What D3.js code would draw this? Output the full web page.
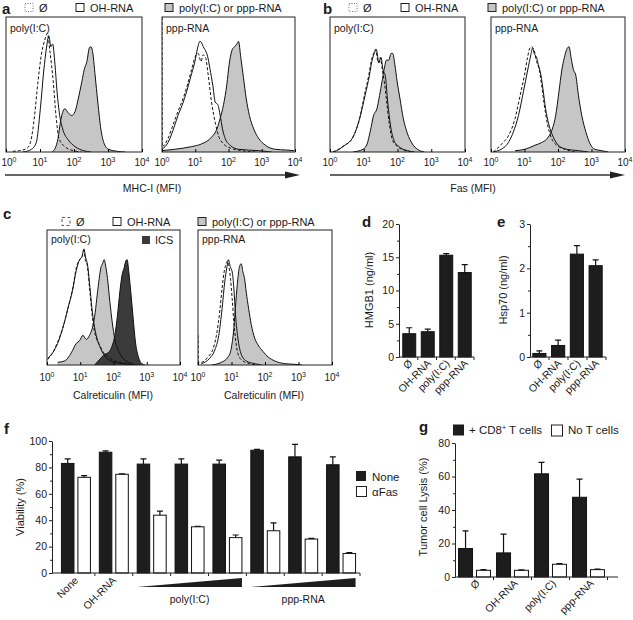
<!DOCTYPE html>
<html><head><meta charset="utf-8">
<script src="https://cdn.jsdelivr.net/npm/d3@7"></script>
<style>
body{margin:0;background:#fff}
svg text{font-family:"Liberation Sans",Arial,sans-serif;fill:#1a1a1a}
</style></head><body>
<svg class="svg-main" width="633" height="620"></svg>
<script>
const svg = d3.select('.svg-main');

// histograms: [log10 MFI, % of box height]
const histTicks = [0, 1, 2, 3, 4];

const mhcPolyNone = [[0.2,0.5],[0.4,1],[0.6,2.5],[0.69,5],[0.78,15],[0.84,27],[0.94,52],[1.04,72],[1.14,83],[1.22,88],[1.29,75],[1.39,52],[1.47,27],[1.56,10],[1.73,4],[1.98,1],[2.2,0]];
const mhcPolyOH = [[0.5,0],[0.75,2],[0.89,7],[1.01,32],[1.11,60],[1.19,77],[1.26,86],[1.32,78],[1.37,80],[1.44,65],[1.5,45],[1.58,27],[1.68,16],[1.83,9],[2.03,4],[2.28,1],[2.5,0]];
const mhcPolyTreated = [[1.35,0],[1.45,3],[1.53,10],[1.6,22],[1.66,29],[1.73,32],[1.83,29],[1.93,27],[2.03,30],[2.13,40],[2.23,52],[2.3,61],[2.38,67],[2.45,77],[2.5,78],[2.56,72],[2.62,57],[2.7,37],[2.79,17],[2.89,6],[3.02,2],[3.27,0.5],[3.5,0]];
const mhcPppNone = [[0,100],[0.005,4],[0.18,10],[0.33,20],[0.48,30],[0.64,40],[0.79,52],[0.89,61],[0.99,70],[1.09,73],[1.17,67],[1.24,72],[1.31,70],[1.39,57],[1.49,37],[1.6,22],[1.7,12],[1.85,6],[2.05,3],[2.4,1],[2.8,0]];
const mhcPppOH = [[0,2],[0.18,7],[0.33,16],[0.48,27],[0.64,37],[0.79,49],[0.89,58],[0.99,67],[1.07,77],[1.14,82],[1.19,81],[1.24,78],[1.29,76],[1.37,71],[1.44,62],[1.53,49],[1.6,37],[1.68,35],[1.75,27],[1.82,17],[1.9,10],[2.05,5],[2.3,2],[2.9,1],[3.3,0]];
const mhcPppTreated = [[0,1],[0.38,2],[0.89,4],[1.19,6],[1.49,11],[1.65,17],[1.75,25],[1.85,35],[1.95,50],[2.02,65],[2.1,75],[2.18,78],[2.25,80],[2.3,82],[2.37,70],[2.45,55],[2.53,40],[2.63,27],[2.76,17],[2.91,10],[3.11,5],[3.41,2],[3.72,1.5],[3.97,1]];

const fasPolyNone = [[0.08,0],[0.38,4],[0.68,11],[0.88,25],[1.02,42],[1.15,57],[1.22,67],[1.29,73],[1.35,76],[1.43,66],[1.49,70],[1.55,61],[1.62,50],[1.68,37],[1.75,22],[1.85,9],[2.0,4],[2.25,1],[2.5,0]];
const fasPolyOH = [[0.08,0],[0.2,1],[0.38,4],[0.68,11],[0.88,25],[1.04,42],[1.17,57],[1.24,67],[1.31,73],[1.37,76],[1.45,66],[1.51,70],[1.57,61],[1.64,56],[1.71,37],[1.79,20],[1.89,9],[2.04,4],[2.29,1],[2.5,0]];
const fasPolyTreated = [[0.68,0],[0.98,2],[1.1,6],[1.19,15],[1.29,27],[1.39,32],[1.47,42],[1.54,52],[1.61,62],[1.67,68],[1.74,68],[1.81,73],[1.86,73],[1.92,65],[1.99,52],[2.07,40],[2.17,25],[2.29,14],[2.44,6],[2.59,2],[2.8,0]];
const fasPppNone = [[0.07,0],[0.32,6],[0.52,12],[0.72,25],[0.87,42],[1.0,57],[1.09,70],[1.16,77],[1.21,78],[1.29,75],[1.36,67],[1.43,62],[1.51,50],[1.59,35],[1.69,20],[1.81,10],[1.96,5],[2.21,2],[2.5,0]];
const fasPppOH = [[0.07,0],[0.42,4],[0.67,15],[0.82,27],[0.97,45],[1.09,60],[1.19,72],[1.24,77],[1.29,73],[1.36,70],[1.41,65],[1.49,57],[1.56,45],[1.63,32],[1.73,20],[1.86,11],[2.01,5],[2.26,2],[2.61,1],[2.9,0]];
const fasPppTreated = [[0.72,1],[1.01,2],[1.31,5],[1.51,7],[1.71,11],[1.83,17],[1.93,27],[2.03,45],[2.11,60],[2.19,70],[2.26,76],[2.33,78],[2.39,70],[2.46,61],[2.53,57],[2.61,42],[2.71,27],[2.83,15],[2.96,6],[3.1,2],[3.3,1],[3.5,0]];

const calPolyNone = [[0.02,4],[0.17,9],[0.32,17],[0.47,27],[0.63,42],[0.78,57],[0.88,72],[0.98,78],[1.05,80],[1.11,85],[1.15,78],[1.21,74],[1.28,57],[1.35,39],[1.41,27],[1.48,20],[1.58,15],[1.68,10],[1.84,6],[2.04,3],[2.34,1.5],[2.6,0]];
const calPolyOH = [[0.02,5],[0.17,9],[0.32,16],[0.47,27],[0.63,42],[0.78,57],[0.88,70],[0.98,78],[1.05,80],[1.11,86],[1.16,80],[1.22,74],[1.3,55],[1.37,38],[1.43,28],[1.5,20],[1.6,13],[1.7,8],[1.85,4],[2.05,2],[2.3,1],[2.6,0]];
const calPolyTreated = [[0.32,2],[0.53,3],[0.73,9],[0.88,16],[0.98,18],[1.08,22],[1.18,19],[1.28,22],[1.38,29],[1.45,39],[1.51,52],[1.57,64],[1.62,72],[1.67,75],[1.72,78],[1.76,74],[1.82,64],[1.89,47],[1.96,32],[2.04,19],[2.14,11],[2.29,5],[2.49,1.5],[2.7,0]];
const calPolyICS = [[1.43,0],[1.58,4],[1.74,8],[1.84,9],[1.94,13],[2.04,22],[2.12,37],[2.19,54],[2.26,67],[2.32,72],[2.37,77],[2.41,78],[2.46,69],[2.52,54],[2.59,35],[2.66,17],[2.75,6],[2.85,1],[2.95,0]];
const calPppNone = [[0,22],[0.01,2],[0.1,2],[0.3,6],[0.45,12],[0.55,22],[0.65,40],[0.72,57],[0.78,69],[0.83,74],[0.88,77],[0.93,72],[0.97,64],[1.02,49],[1.07,32],[1.13,17],[1.21,7],[1.34,3],[1.54,1],[1.8,0]];
const calPppOH = [[0.1,1],[0.35,5],[0.5,11],[0.62,22],[0.72,42],[0.8,62],[0.86,72],[0.91,78],[0.96,73],[1.02,69],[1.07,57],[1.12,37],[1.19,20],[1.29,8],[1.44,3],[1.69,1],[1.9,0]];
const calPppTreated = [[0.4,0],[0.7,2],[0.9,6],[0.99,12],[1.07,27],[1.13,47],[1.19,64],[1.24,73],[1.29,75],[1.34,69],[1.39,64],[1.44,54],[1.51,42],[1.59,30],[1.69,20],[1.79,15],[1.94,10],[2.09,6],[2.29,3],[2.59,1],[2.89,0.5],[3.1,0]];

// bar charts
const releaseCats = ['Ø', 'OH-RNA', 'poly(I:C)', 'ppp-RNA'];
const hmgb1 = [3.5, 3.8, 15.3, 12.7];
const hmgb1Err = [0.9, 0.4, 0.25, 1.2];
const hsp70 = [0.08, 0.26, 2.32, 2.06];
const hsp70Err = [0.06, 0.12, 0.19, 0.13];

const viaGroups = ['None', 'OH-RNA', 'p1', 'p2', 'p3', 'q1', 'q2', 'q3'];
const viaNone = [83, 91.5, 82.5, 82.5, 82.5, 93, 88, 82];
const viaNoneErr = [3.5, 1, 4, 4, 3, 0.7, 9.5, 6];
const viaFas = [72.5, 74.8, 43.8, 35, 26.8, 32, 25.7, 14.8];
const viaFasErr = [1.2, 0.3, 3, 0.4, 2, 6, 0.5, 0.7];

const lysisCD8 = [17, 14.4, 61.6, 47.6];
const lysisCD8Err = [10.5, 11.2, 6.8, 10.8];
const lysisNoT = [4, 4, 7.6, 4.4];
const lysisNoTErr = [0.4, 0.3, 0.4, 0.3];

const GRAY = '#c6c6c6', DARK = '#3b3b3b', BLACK = '#1d1d1d', INK = '#1a1a1a';
const FONT = '"Liberation Sans",Arial,sans-serif';

let clipN = 0;

function txt(x, y, s, size, anchor) {
  return svg.append('text').attr('x', x).attr('y', y).attr('font-size', size)
    .attr('text-anchor', anchor || 'start').text(s);
}

function letter(x, y, s) {
  txt(x, y, s, 15).attr('font-weight', 'bold');
}

function histo(box, label, series, tickY) {
  const x = d3.scaleLinear().domain([0, 4]).range([box.x0, box.x1]);
  const y = d3.scaleLinear().domain([0, 100]).range([box.y1, box.y0]);
  const id = 'clip' + (clipN++);
  svg.append('clipPath').attr('id', id).append('rect')
    .attr('x', box.x0).attr('y', box.y0).attr('width', box.x1 - box.x0).attr('height', box.y1 - box.y0);
  const plot = svg.append('g').attr('clip-path', `url(#${id})`);

  const area = d3.area().x(d => x(d[0])).y0(y(0)).y1(d => y(d[1])).curve(d3.curveMonotoneX);
  const line = d3.line().x(d => x(d[0])).y(d => y(d[1])).curve(d3.curveMonotoneX);

  series.filter(s => s.fill).forEach(s => {
    plot.append('path').attr('d', area(s.data)).attr('fill', s.fill);
  });
  series.forEach(s => {
    plot.append('path').attr('d', line(s.data))
      .attr('fill', 'none').attr('stroke', '#111').attr('stroke-width', 1)
      .attr('stroke-dasharray', s.dashed ? '3,2' : null);
  });

  svg.append('rect').attr('x', box.x0).attr('y', box.y0)
    .attr('width', box.x1 - box.x0).attr('height', box.y1 - box.y0)
    .attr('fill', 'none').attr('stroke', '#222').attr('stroke-width', 1);

  svg.append('g').attr('transform', `translate(0,${box.y1})`)
    .call(d3.axisBottom(x).tickValues(histTicks).tickSize(-3).tickSizeOuter(0).tickFormat(''))
    .call(g => g.select('.domain').remove());

  histTicks.forEach(t => {
    // keep the leftmost label inside the page
    const cx = Math.max(x(t), 9);
    const tx = txt(cx, tickY, '10', 10, 'middle');
    tx.append('tspan').attr('dy', -4).attr('font-size', 7).text(t);
  });

  txt(box.x0 + 4, box.y0 + label.dy, label.text, 10.5);
}

function legendRow(y, items) {
  items.forEach(it => {
    svg.append('rect').attr('x', it.x).attr('y', y - 8).attr('width', 8).attr('height', 8)
      .attr('fill', it.fill).attr('stroke', it.stroke || '#222').attr('stroke-width', 1)
      .attr('stroke-dasharray', it.dash || null);
    txt(it.x + 14, y, it.text, 11);
  });
}

function arrow(x0, x1, y) {
  svg.append('line').attr('x1', x0).attr('x2', x1 - 12).attr('y1', y).attr('y2', y)
    .attr('stroke', '#333').attr('stroke-width', 1.6);
  svg.append('path').attr('d', `M${x1 - 15},${y - 3.5}L${x1},${y}L${x1 - 15},${y + 3.5}Z`).attr('fill', '#222');
}

// ---------- a : MHC-I
letter(2, 13.5, 'a');
legendRow(11.5, [
  {x: 25, fill: '#fff', stroke: '#777', dash: '1,1.5', text: 'Ø'},
  {x: 76, fill: '#fff', text: 'OH-RNA'},
  {x: 165, fill: GRAY, text: 'poly(I:C) or ppp-RNA'}
]);
histo({x0: 6, x1: 142, y0: 17, y1: 152}, {text: 'poly(I:C)', dy: 15}, [
  {data: mhcPolyOH, fill: '#fff'},
  {data: mhcPolyTreated, fill: GRAY},
  {data: mhcPolyNone, dashed: true}
], 166);
histo({x0: 162, x1: 295, y0: 17, y1: 152}, {text: 'ppp-RNA', dy: 15}, [
  {data: mhcPppOH, fill: '#fff'},
  {data: mhcPppTreated, fill: GRAY},
  {data: mhcPppNone, dashed: true}
], 166);
arrow(5, 300, 175);
txt(152, 192, 'MHC-I (MFI)', 10.5, 'middle');

// ---------- b : Fas
letter(323, 13.5, 'b');
legendRow(11.5, [
  {x: 349, fill: '#fff', stroke: '#777', dash: '1,1.5', text: 'Ø'},
  {x: 401, fill: '#fff', text: 'OH-RNA'},
  {x: 488, fill: GRAY, text: 'poly(I:C) or ppp-RNA'}
]);
histo({x0: 330, x1: 465, y0: 17, y1: 152}, {text: 'poly(I:C)', dy: 15}, [
  {data: fasPolyOH, fill: '#fff'},
  {data: fasPolyTreated, fill: GRAY},
  {data: fasPolyNone, dashed: true}
], 166);
histo({x0: 491, x1: 625, y0: 17, y1: 152}, {text: 'ppp-RNA', dy: 15}, [
  {data: fasPppOH, fill: '#fff'},
  {data: fasPppTreated, fill: GRAY},
  {data: fasPppNone, dashed: true}
], 166);
arrow(330, 625, 175);
txt(473, 192, 'Fas (MFI)', 10.5, 'middle');

// ---------- c : Calreticulin
letter(3, 219, 'c');
legendRow(225.5, [
  {x: 62, fill: '#fff', stroke: '#555', dash: '3,2.5', text: 'Ø'},
  {x: 113, fill: '#fff', text: 'OH-RNA'},
  {x: 198, fill: GRAY, text: 'poly(I:C) or ppp-RNA'}
]);
histo({x0: 47, x1: 180, y0: 230, y1: 365}, {text: 'poly(I:C)', dy: 13}, [
  {data: calPolyOH, fill: '#fff'},
  {data: calPolyTreated, fill: GRAY},
  {data: calPolyICS, fill: DARK},
  {data: calPolyNone, dashed: true}
], 381);
histo({x0: 198, x1: 332, y0: 230, y1: 365}, {text: 'ppp-RNA', dy: 13}, [
  {data: calPppOH, fill: '#fff'},
  {data: calPppTreated, fill: GRAY},
  {data: calPppNone, dashed: true}
], 381);
svg.append('rect').attr('x', 142).attr('y', 236).attr('width', 8).attr('height', 8).attr('fill', DARK);
txt(155, 244, 'ICS', 11);
txt(113, 399, 'Calreticulin (MFI)', 10.5, 'middle');
txt(264, 399, 'Calreticulin (MFI)', 10.5, 'middle');

// ---------- bar helpers
function yAxis(scale, x0, major, minor) {
  svg.append('g').attr('transform', `translate(${x0},0)`)
    .call(d3.axisLeft(scale).tickValues(major).tickSize(3).tickPadding(2).tickSizeOuter(0).tickFormat(d3.format('')))
    .call(g => g.selectAll('text').attr('font-family', FONT).attr('font-size', 10.5).attr('fill', INK))
    .call(g => g.selectAll('line,path').attr('stroke', '#222'));
  svg.append('g').attr('transform', `translate(${x0},0)`)
    .call(d3.axisLeft(scale).tickValues(minor).tickSize(2).tickFormat(''))
    .call(g => g.select('.domain').remove())
    .call(g => g.selectAll('line').attr('stroke', '#222'));
}

function xBase(band, cats, x0, x1, y) {
  svg.append('line').attr('x1', x0).attr('x2', x1).attr('y1', y).attr('y2', y).attr('stroke', '#222');
  const edges = cats.slice(1).map(c => band(c)).concat([band(cats[cats.length - 1]) + band.step()]);
  svg.append('g').selectAll('line').data(edges).enter().append('line')
    .attr('x1', d => d).attr('x2', d => d).attr('y1', y).attr('y2', y + 3).attr('stroke', '#222');
}

function bars(xs, w, vals, errs, y, fill) {
  const g = svg.append('g');
  g.selectAll('rect').data(vals).enter().append('rect')
    .attr('x', (d, i) => xs[i]).attr('width', w)
    .attr('y', d => y(d)).attr('height', d => y(0) - y(d))
    .attr('fill', fill).attr('stroke', '#111').attr('stroke-width', 1);
  g.selectAll('.eb').data(vals).enter().append('path')
    .attr('d', (d, i) => {
      const cx = xs[i] + w / 2, t = y(d + errs[i]);
      return `M${cx},${y(d)}V${t}M${cx - 3},${t}H${cx + 3}`;
    })
    .attr('stroke', '#111').attr('stroke-width', 1.2).attr('fill', 'none');
}

function catLabels(band, cats, y, dx, shown) {
  cats.forEach((c, i) => {
    const s = shown ? shown[i] : c;
    if (!s) return;
    const cx = band(c) + band.bandwidth() / 2 + dx;
    svg.append('text').attr('transform', `translate(${cx},${y}) rotate(-45)`)
      .attr('text-anchor', 'end').attr('font-size', 10.5).text(s);
  });
}

// ---------- d : HMGB1
letter(362, 227, 'd');
const xd = d3.scaleBand().domain(releaseCats).range([400, 474]).paddingInner(0.3).paddingOuter(0.15);
const yd = d3.scaleLinear().domain([0, 20]).range([357, 224]);
bars(releaseCats.map(c => xd(c)), xd.bandwidth(), hmgb1, hmgb1Err, yd, BLACK);
yAxis(yd, 399, [0, 5, 10, 15, 20], [2.5, 7.5, 12.5, 17.5]);
xBase(d3.scaleBand().domain(releaseCats).range([399, 474]), releaseCats, 399, 474, 357);
catLabels(xd, releaseCats, 364, 4);
svg.append('text').attr('transform', 'translate(373,290) rotate(-90)')
  .attr('text-anchor', 'middle').attr('font-size', 11).text('HMGB1 (ng/ml)');

// ---------- e : Hsp70
letter(497, 227, 'e');
const xe = d3.scaleBand().domain(releaseCats).range([530, 605]).paddingInner(0.3).paddingOuter(0.15);
const ye = d3.scaleLinear().domain([0, 3]).range([357, 224]);
bars(releaseCats.map(c => xe(c)), xe.bandwidth(), hsp70, hsp70Err, ye, BLACK);
yAxis(ye, 530, [0, 1, 2, 3], [0.5, 1.5, 2.5]);
xBase(d3.scaleBand().domain(releaseCats).range([530, 606]), releaseCats, 530, 606, 357);
catLabels(xe, releaseCats, 364, 4);
svg.append('text').attr('transform', 'translate(507,290) rotate(-90)')
  .attr('text-anchor', 'middle').attr('font-size', 11).text('Hsp70 (ng/ml)');

// ---------- f : viability
letter(4, 434, 'f');
const xf = d3.scaleBand().domain(viaGroups).range([57, 360]);
const xfs = d3.scaleBand().domain(['none', 'fas']).range([0, xf.bandwidth()]).paddingInner(0.24).paddingOuter(0.27);
const yf = d3.scaleLinear().domain([0, 100]).range([573, 441]);
bars(viaGroups.map(g => xf(g) + xfs('none')), xfs.bandwidth(), viaNone, viaNoneErr, yf, BLACK);
bars(viaGroups.map(g => xf(g) + xfs('fas')), xfs.bandwidth(), viaFas, viaFasErr, yf, '#fff');
yAxis(yf, 52, [0, 20, 40, 60, 80, 100], [10, 30, 50, 70, 90]);
xBase(xf, viaGroups, 52, 360, 573);
catLabels(xf, viaGroups, 581, 3, ['None', 'OH-RNA']);
[['p1', 'p3'], ['q1', 'q3']].forEach(([a, b]) => {
  const l = xf(a) + xfs('none'), r = xf(b) + xfs('fas') + xfs.bandwidth();
  svg.append('path').attr('d', `M${l},587L${r},578L${r},587Z`).attr('fill', BLACK);
});
txt((xf('p1') + xf('p3') + xf.bandwidth()) / 2, 603, 'poly(I:C)', 10.5, 'middle');
txt((xf('q1') + xf('q3') + xf.bandwidth()) / 2, 603, 'ppp-RNA', 10.5, 'middle');
svg.append('text').attr('transform', 'translate(24,507) rotate(-90)')
  .attr('text-anchor', 'middle').attr('font-size', 11).text('Viability (%)');
svg.append('rect').attr('x', 356).attr('y', 471).attr('width', 10).attr('height', 10).attr('fill', BLACK);
txt(372, 480.5, 'None', 11.5);
svg.append('rect').attr('x', 356.5).attr('y', 486.5).attr('width', 10).attr('height', 10).attr('fill', '#fff').attr('stroke', '#222');
txt(372, 496, '\u03b1Fas', 11.5);

// ---------- g : tumor cell lysis
letter(419, 432, 'g');
const xg = d3.scaleBand().domain(releaseCats).range([455.5, 607.5]);
const xgs = d3.scaleBand().domain(['cd8', 'not']).range([0, xg.bandwidth()]).paddingInner(0.22).paddingOuter(0.17);
const yg = d3.scaleLinear().domain([0, 80]).range([577, 443]);
bars(releaseCats.map(c => xg(c) + xgs('cd8')), xgs.bandwidth(), lysisCD8, lysisCD8Err, yg, BLACK);
bars(releaseCats.map(c => xg(c) + xgs('not')), xgs.bandwidth(), lysisNoT, lysisNoTErr, yg, '#fff');
yAxis(yg, 455, [0, 20, 40, 60, 80], [10, 30, 50, 70]);
xBase(xg, releaseCats, 455, 618, 577);
catLabels(xg, releaseCats, 584, 6);
svg.append('text').attr('transform', 'translate(427,507) rotate(-90)')
  .attr('text-anchor', 'middle').attr('font-size', 11).text('Tumor cell Lysis (%)');
svg.append('rect').attr('x', 453).attr('y', 424.5).attr('width', 11).attr('height', 11).attr('fill', BLACK);
const cd8 = txt(469, 434, '+ CD8', 11.5);
cd8.append('tspan').attr('dy', -4).attr('font-size', 7).text('+');
cd8.append('tspan').attr('dy', 4).text(' T cells');
svg.append('rect').attr('x', 551.5).attr('y', 425).attr('width', 11).attr('height', 11).attr('fill', '#fff').attr('stroke', '#222');
txt(568, 434, 'No T cells', 11.5);
</script></body></html>
